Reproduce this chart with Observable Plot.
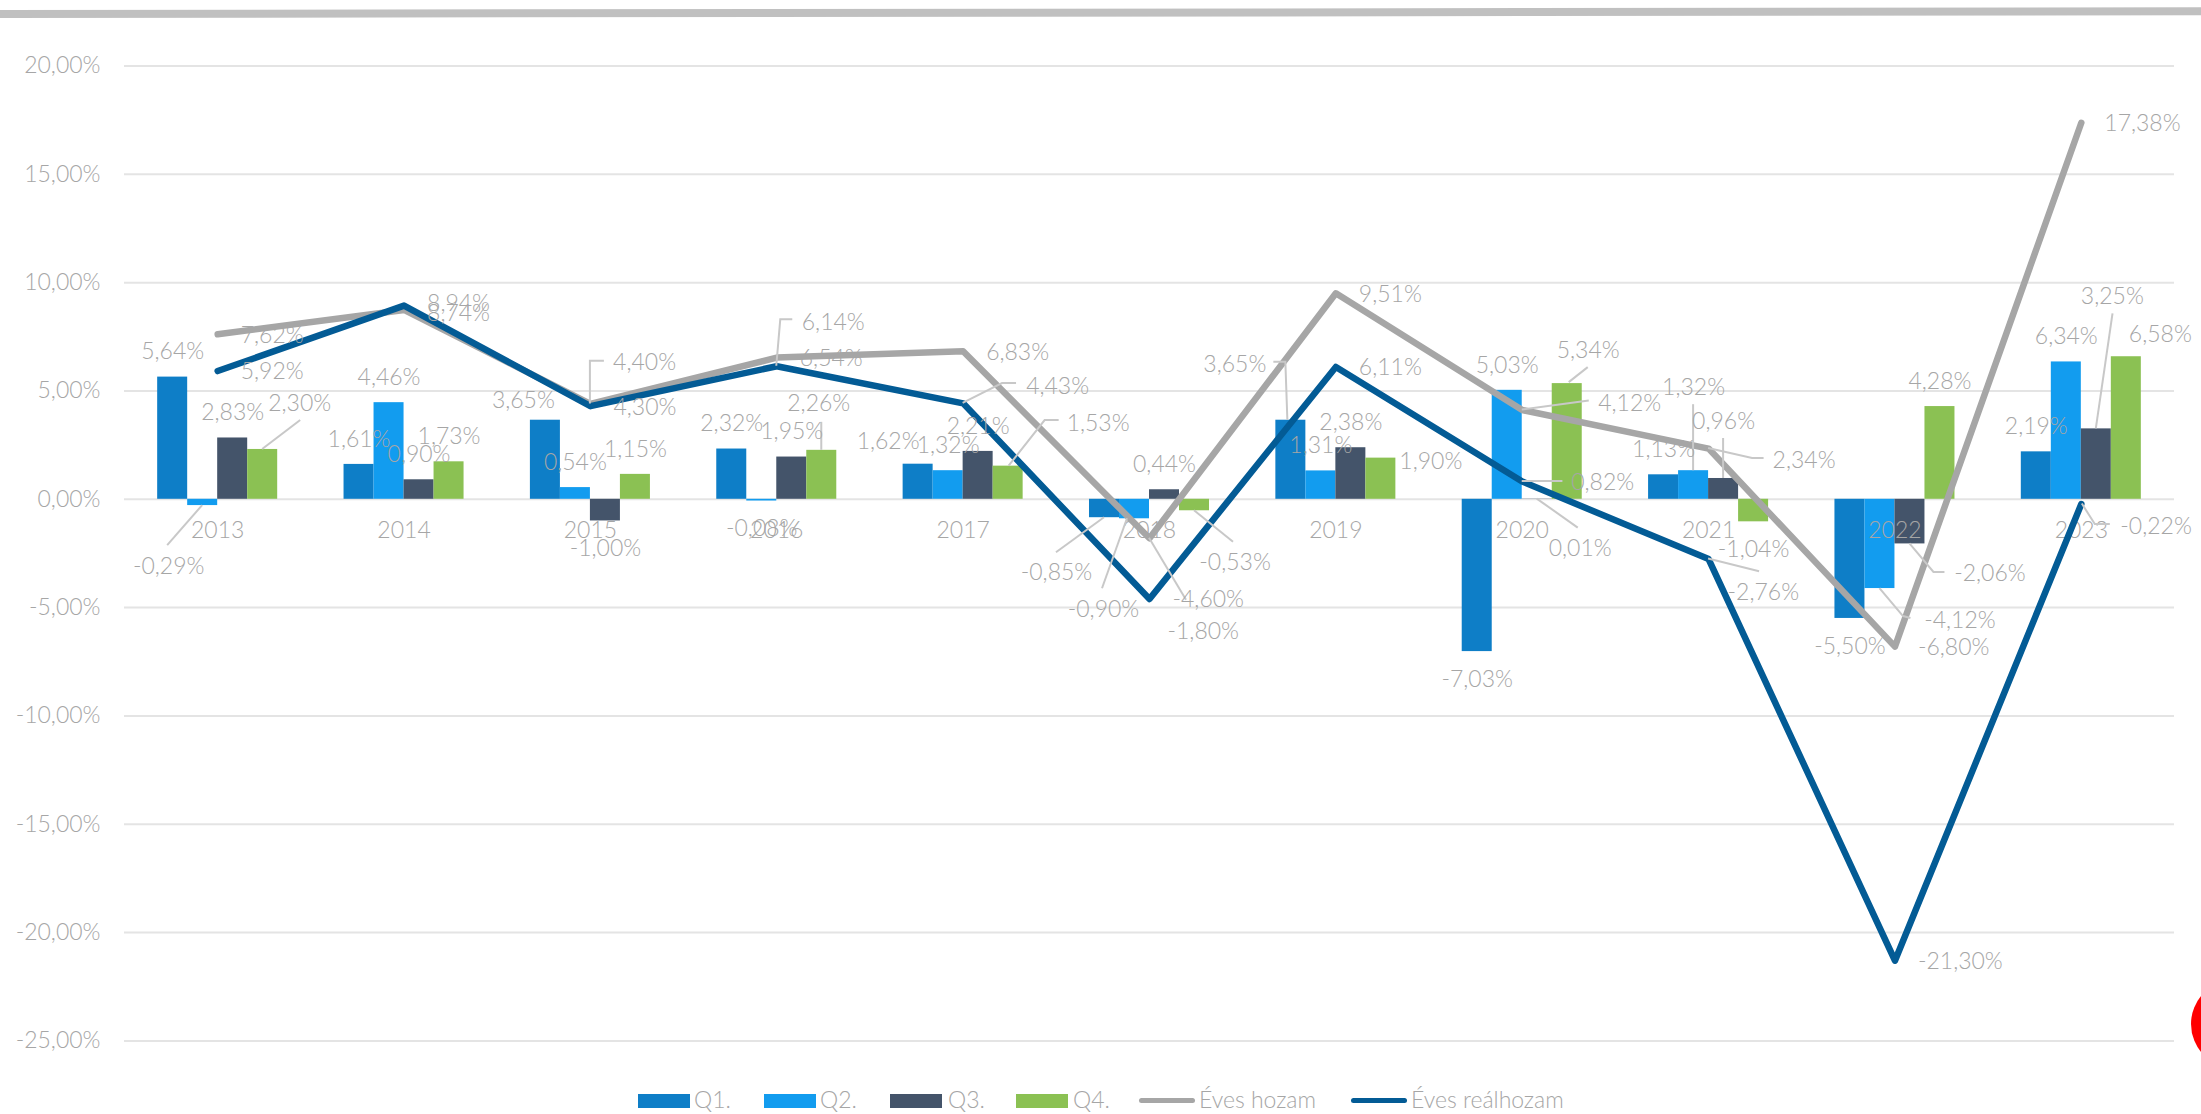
<!DOCTYPE html>
<html><head><meta charset="utf-8">
<script src="https://cdn.jsdelivr.net/npm/d3@7"></script>
<script src="https://cdn.jsdelivr.net/npm/@observablehq/plot@0.6"></script>
<style>
html,body{margin:0;padding:0;background:#fff;}
body{width:2201px;height:1114px;overflow:hidden;position:relative;font-family:Lato, sans-serif;font-weight:300;}
#band{position:absolute;left:0;top:10.3px;width:2201px;height:7.5px;background:#c0c0c0;transform-origin:0 50%;transform:rotate(-0.073deg);}
#chart{position:absolute;left:0;top:0;width:2201px;}
#chart svg{max-width:none;}
.lgt{position:absolute;font-size:23px;color:#a6a6a6;line-height:23px;white-space:nowrap;font-family:Lato, sans-serif;font-weight:300;}
.lgs{position:absolute;}
#logo{position:absolute;left:2191px;top:980px;width:88px;height:88px;border-radius:50%;background:#ff0000;}
</style></head><body>
<div id="band"></div><div id="chart"></div><div id="legend"></div><div id="logo"></div>
<script>
// ---------- data ----------
const years = ["2013","2014","2015","2016","2017","2018","2019","2020","2021","2022","2023"];
const q1 = [5.64, 1.61, 3.65, 2.32, 1.62, -0.85, 3.65, -7.03, 1.13, -5.50, 2.19];
const q2 = [-0.29, 4.46, 0.54, -0.08, 1.32, -0.90, 1.31, 5.03, 1.32, -4.12, 6.34];
const q3 = [2.83, 0.90, -1.00, 1.95, 2.21, 0.44, 2.38, 0.01, 0.96, -2.06, 3.25];
const q4 = [2.30, 1.73, 1.15, 2.26, 1.53, -0.53, 1.90, 5.34, -1.04, 4.28, 6.58];
const evesHozam = [7.62, 8.74, 4.40, 6.54, 6.83, -1.80, 9.51, 4.12, 2.34, -6.80, 17.38];
const evesRealhozam = [5.92, 8.94, 4.30, 6.14, 4.43, -4.60, 6.11, 0.82, -2.76, -21.30, -0.22];
const yTicks = [-25, -20, -15, -10, -5, 0, 5, 10, 15, 20];
const barSeries = ["Q1.", "Q2.", "Q3.", "Q4."];
const lineSeries = ["Éves hozam", "Éves reálhozam"];

// ---------- styles / layout ----------
const colors = {"Q1.":"#0e7ec7","Q2.":"#129cef","Q3.":"#44546a","Q4.":"#8bc153","Éves hozam":"#a6a6a6","Éves reálhozam":"#035b95"};
const TXT = "#a6a6a6", LEAD = "#c8c8c8", FS = 23;
const W = 2201, H = 1060, ML = 124, MR = 27, MT = 65.5, MB = 19.6;
const PAD_IN = 0.356, PAD_OUT = 0.178;
const STEP = (W - ML - MR) / (years.length - PAD_IN + 2 * PAD_OUT);
const BW = STEP * (1 - PAD_IN);
const QW = BW / 4;

// label nudges: bars -> label centre offset from (bar centre, value); lines -> label left edge / centre offset from point
const barNudge = {
  "Q1.|2015": {d:[-22,-20]},
  "Q1.|2017": {d:[-30,-23]},
  "Q1.|2018": {d:[-48,55], l:[[0,0],[-48,35]]},
  "Q1.|2019": {d:[-56,-56], l:[[-3,0],[-5,-58],[-17,-58]]},
  "Q2.|2013": {d:[-34,61], l:[[0,0],[-35,40]]},
  "Q2.|2018": {d:[-31,91], l:[[-7,0],[-32,70]]},
  "Q2.|2021": {d:[0,-83], l:[[0,0],[0,-66]]},
  "Q2.|2022": {d:[80,31.6], l:[[0,0],[23.6,28],[31,30]]},
  "Q3.|2020": {d:[43,49.5], l:[[0,0],[41,29]]},
  "Q3.|2021": {d:[0,-57], l:[[0,0],[0,-40]]},
  "Q3.|2022": {d:[80,30], l:[[0,0],[24,28.5],[35,28.5]]},
  "Q3.|2023": {d:[16,-132], l:[[0,0],[16.7,-115]]},
  "Q4.|2013": {d:[37,-46], l:[[0,0],[38,-29]]},
  "Q4.|2016": {d:[-3,-47], l:[[0,0],[0,-28]]},
  "Q4.|2017": {d:[90,-43], l:[[1,0],[37,-45.6],[51,-45.6]]},
  "Q4.|2018": {d:[40.6,52], l:[[0,0],[39,31.5]]},
  "Q4.|2019": {d:[50,3]},
  "Q4.|2020": {d:[21,-33], l:[[2,-1],[21,-16]]},
  "Q4.|2023": {d:[34,-22]}
};
const lineNudge = {
  "Éves hozam|2014": {d:[23,4]},
  "Éves hozam|2015": {d:[22.7,-41], l:[[0,0],[0,-42.7],[14,-42.7]]},
  "Éves hozam|2018": {d:[18,93], l:[[0,0],[37,62]]},
  "Éves hozam|2020": {d:[76,-6], l:[[0,0],[67,-9]]},
  "Éves hozam|2021": {d:[64,12], l:[[0,0],[44,10],[55.5,10]]},
  "Éves reálhozam|2014": {d:[23,-2]},
  "Éves reálhozam|2016": {d:[25,-44], l:[[0,0],[4,-46.4],[16,-46.4]]},
  "Éves reálhozam|2017": {d:[63,-17], l:[[0,0],[39.4,-19.7],[53.4,-19.7]]},
  "Éves reálhozam|2020": {d:[49,1], l:[[0,0],[40.7,0]]},
  "Éves reálhozam|2021": {d:[19,34], l:[[0,0],[51,12.6]]},
  "Éves reálhozam|2023": {d:[39,22.5], l:[[1,0],[14,20.5],[29,20.5]]}
};

const fmt = v => v.toFixed(2).replace(".", ",") + "%";

const barValues = [q1, q2, q3, q4];
const lineValues = [evesHozam, evesRealhozam];
const barData = barSeries.map((s, k) => years.map((yr, i) => ({series: s, k, year: yr, value: barValues[k][i]})));
const lineData = lineSeries.map((s, j) => years.map((yr, i) => ({series: s, year: yr, value: lineValues[j][i]})));

// leader lines list
const leaders = [];
barData.flat().forEach(d => {
  const n = barNudge[d.series + "|" + d.year];
  if (n && n.l) leaders.push({year: d.year, value: d.value, xoff: (d.k - 1.5) * QW, pts: n.l});
});
lineData.flat().forEach(d => {
  const n = lineNudge[d.series + "|" + d.year];
  if (n && n.l) leaders.push({year: d.year, value: d.value, xoff: 0, pts: n.l});
});

function leaderMark(index, scales, values, dimensions, context) {
  const g = d3.create("svg:g").attr("fill", "none").attr("stroke", LEAD).attr("stroke-width", 2);
  const xs = scales.x, ys = scales.y;
  const bwv = typeof xs.bandwidth === "function" ? xs.bandwidth() : BW;
  for (const L of leaders) {
    const cx = xs(L.year) + bwv / 2 + L.xoff;
    const cy = ys(L.value);
    g.append("polyline").attr("points", L.pts.map(([a, b]) => `${cx + a},${cy + b}`).join(" "));
  }
  return g.node();
}

const marks = [
  Plot.gridY(yTicks, {stroke: "#e4e4e4", strokeOpacity: 1, strokeWidth: 2}),
  Plot.axisY(yTicks, {tickSize: 0, tickPadding: 24, tickFormat: fmt, fontSize: FS, fill: TXT, label: null})
];
barData.forEach((d, k) => {
  marks.push(Plot.barY(d, {x: "year", y: "value", fill: colors[barSeries[k]], insetLeft: k * QW, insetRight: (3 - k) * QW}));
});
marks.push(Plot.text(years, {x: d => d, y: 0, text: d => d, dy: 31, fontSize: FS, fill: TXT}));
lineData.forEach((d, j) => {
  marks.push(Plot.line(d, {x: "year", y: "value", stroke: colors[lineSeries[j]], strokeWidth: 6.5, strokeLinecap: "round", strokeLinejoin: "round"}));
});
marks.push(leaderMark);
barData.flat().forEach(d => {
  const n = barNudge[d.series + "|" + d.year];
  const def = d.value >= 0 ? [0, -25] : [0, 28];
  const [nx, ny] = n ? n.d : def;
  marks.push(Plot.text([d], {x: "year", y: "value", text: e => fmt(e.value), dx: (d.k - 1.5) * QW + nx, dy: ny, fontSize: FS, fill: TXT, textAnchor: "middle"}));
});
lineData.flat().forEach(d => {
  const n = lineNudge[d.series + "|" + d.year];
  const [nx, ny] = n ? n.d : [23, 1];
  marks.push(Plot.text([d], {x: "year", y: "value", text: e => fmt(e.value), dx: nx, dy: ny, fontSize: FS, fill: TXT, textAnchor: "start"}));
});

const chart = Plot.plot({
  width: W, height: H,
  marginLeft: ML, marginRight: MR, marginTop: MT, marginBottom: MB,
  style: {fontFamily: "Lato, sans-serif", fontWeight: 300, background: "transparent", maxWidth: "none"},
  x: {type: "band", domain: years, paddingInner: PAD_IN, paddingOuter: PAD_OUT, round: false, axis: null},
  y: {domain: [-25, 20], axis: null, label: null},
  marks
});
document.getElementById("chart").appendChild(chart);

// ---------- legend ----------
const legendItems = [
  {name: "Q1.", kind: "rect", sw: 638, tx: 694},
  {name: "Q2.", kind: "rect", sw: 764, tx: 820},
  {name: "Q3.", kind: "rect", sw: 890, tx: 948},
  {name: "Q4.", kind: "rect", sw: 1016, tx: 1073},
  {name: "Éves hozam", kind: "line", sw: 1139, tx: 1199},
  {name: "Éves reálhozam", kind: "line", sw: 1351, tx: 1411}
];
const lg = document.getElementById("legend");
legendItems.forEach(it => {
  const s = document.createElement("div");
  s.className = "lgs";
  s.style.left = it.sw + "px";
  s.style.background = colors[it.name];
  if (it.kind === "rect") { s.style.top = "1094px"; s.style.width = "52px"; s.style.height = "14px"; }
  else { s.style.top = "1097.5px"; s.style.width = "56px"; s.style.height = "5.5px"; s.style.borderRadius = "3px"; }
  lg.appendChild(s);
  const t = document.createElement("div");
  t.className = "lgt";
  t.style.left = it.tx + "px";
  t.style.top = "1087.5px";
  t.textContent = it.name;
  lg.appendChild(t);
});
</script></body></html>
